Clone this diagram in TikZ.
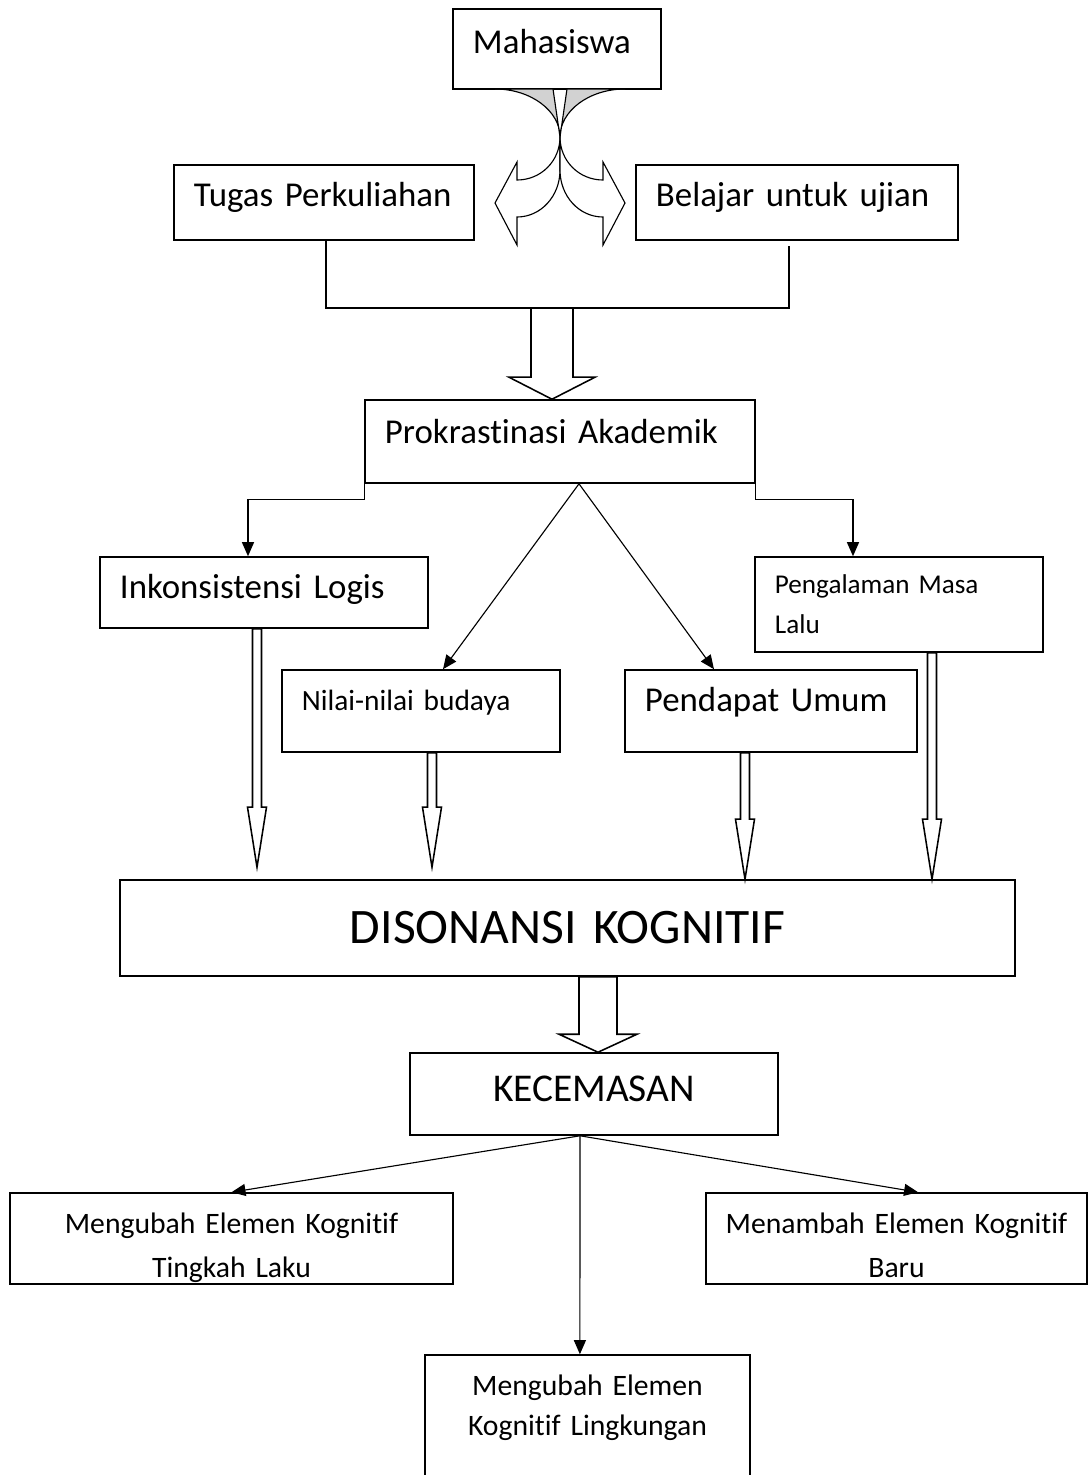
\documentclass[tikz,border=0pt]{standalone}
\usepackage{fontspec}
\setmainfont{Carlito}[Ligatures={NoCommon,NoRare}]
\usetikzlibrary{arrows.meta,calc}

\newdimen\pxu \pxu=0.025cm
% hollow block arrow pointing down: x, from, to, half shaft, half head, head length (px)
\newcommand{\hollowdown}[6]{%
  \draw[blok] let \p1=(#2), \p2=(#3), \p3=(#1,0) in
    (\x3-#4*\pxu,\y1) -- (\x3-#4*\pxu,\y2+#6*\pxu) -- (\x3-#5*\pxu,\y2+#6*\pxu) -- (\x3,\y2)
    -- (\x3+#5*\pxu,\y2+#6*\pxu) -- (\x3+#4*\pxu,\y2+#6*\pxu) -- (\x3+#4*\pxu,\y1) -- cycle;}

\begin{document}
\begin{tikzpicture}[
    x=0.025cm, y=-0.025cm,
    kotak/.style={rectangle, draw, line width=1.1pt, inner xsep=0.5cm, inner ysep=0pt,
                  align=left, font=\fontsize{24.8}{28}\selectfont},
    kotakkecil/.style={kotak, font=\fontsize{19.3}{28.45}\selectfont},
    kotaktengah/.style={kotak, inner xsep=0.1cm, align=center},
    kotakbawah/.style={kotaktengah, font=\fontsize{21.1}{31.3}\selectfont},
    panah/.style={-{Triangle[length=0.35cm,width=0.3cm]}, line width=0.8pt},
    garis/.style={line width=1.1pt},
    lengkung/.style={line width=0.8pt},
    blok/.style={draw, fill=white, line width=1.1pt, line join=miter}
]
\useasboundingbox (0,0) rectangle (1092,1475);
\clip (0,0) rectangle (1092,1475);

% Top
\node[kotak, text width=4.2cm, text height=1.1cm, text depth=0.9cm] (mhs) at (557,49) {Mahasiswa};
\node[kotak, text width=6.5cm, text height=1.025cm, text depth=0.85cm] (tugas) at (324,202.5) {Tugas Perkuliahan};
\node[kotak, text width=7.05cm, text height=1.025cm, text depth=0.85cm] (belajar) at (797,202.5) {Belajar untuk ujian};

% curved arrows out of Mahasiswa
\coordinate (silang) at (560,137);
\draw[lengkung, fill=gray!35] (silang) .. controls +(0,-26) and +(-36,0) .. (625,89) -- (567,89) -- cycle;
\draw[lengkung, fill=gray!35] (silang) .. controls +(0,-26) and +(36,0) .. (495,89) -- (553,89) -- cycle;
\draw[lengkung, fill=white] (silang) .. controls +(0,24) and +(24,0) .. (517,180) -- (517,162) -- (495,203)
    -- (517,245) -- (517,217) .. controls +(24,0) and +(0,26) .. (560,170) -- cycle;
\draw[lengkung, fill=white] (silang) .. controls +(0,24) and +(-24,0) .. (603,180) -- (603,162) -- (625,203)
    -- (603,245) -- (603,217) .. controls +(-24,0) and +(0,26) .. (560,170) -- cycle;

% Prokrastinasi
\node[kotak, text width=8.75cm, text height=1.075cm, text depth=1cm] (pro) at (560,441.5) {Prokrastinasi Akademik};
\coordinate (gabung) at (552,308);
\draw[garis] ([xshift=0.05cm]tugas.south) |- (gabung) -| ([xshift=-0.2cm,yshift=-0.125cm]belajar.south);
\hollowdown{552}{gabung}{pro.north}{21}{43}{22}

% Factors
\node[kotak, text width=7.2cm, text height=1.025cm, text depth=0.75cm] (ink) at (264,592.5) {Inkonsistensi Logis};
\node[kotakkecil, text width=6.2cm, text height=0.9cm, text depth=1.475cm] (pen) at (899,604.5) {Pengalaman Masa\\Lalu};
\node[kotakkecil, text width=5.95cm, text height=1cm, text depth=1.05cm,
      font=\fontsize{20.9}{28.45}\selectfont] (nil) at (421,711) {Nilai-nilai budaya};
\node[kotak, text width=6.3cm, text height=1.025cm, text depth=1.025cm] (pda) at (771,711) {Pendapat Umum};

\draw[panah] (pro.south west) -- ++(0,16) -| ([xshift=-0.4cm]ink.north);
\draw[panah] (pro.south east) -- ++(0,16) -| ([xshift=-1.15cm]pen.north);
\draw[panah] ([xshift=0.475cm]pro.south) -- ([xshift=0.55cm]nil.north);
\draw[panah] ([xshift=0.475cm]pro.south) -- ([xshift=-1.425cm]pda.north);

% Disonansi
\node[kotaktengah, text width=22.175cm, text height=1.575cm, text depth=0.825cm,
      font=\fontsize{35.3}{42}\selectfont] (dis) at (567.5,928) {DISONANSI KOGNITIF};

\hollowdown{257}{ink.south}{[yshift=0.3cm]dis.north}{4.5}{9.5}{60}
\hollowdown{432}{nil.south}{[yshift=0.3cm]dis.north}{4.5}{9.5}{60}
\hollowdown{745}{pda.south}{dis.north}{4.5}{9.5}{60}
\hollowdown{932}{pen.south}{dis.north}{4.5}{9.5}{60}

% Kecemasan
\node[kotaktengah, text width=9cm, text height=1.2cm, text depth=0.85cm,
      font=\fontsize{28}{32}\selectfont] (kec) at (594,1094) {KECEMASAN};
\hollowdown{598}{dis.south}{kec.north}{19}{39}{18}

% Reduksi
\node[kotakbawah, text width=10.875cm, text height=1cm, text depth=1.275cm] (tl) at (231.5,1238.5) {Mengubah Elemen Kognitif\\Tingkah Laku};
\node[kotakbawah, text width=9.325cm, text height=1cm, text depth=1.275cm] (baru) at (896.5,1238.5) {Menambah Elemen Kognitif\\Baru};
\node[kotakbawah, text width=7.925cm, text height=1cm, text depth=2.5cm,
      font=\fontsize{21.1}{28.45}\selectfont] (lkg) at (587.5,1425) {Mengubah Elemen\\Kognitif Lingkungan};

\draw[panah] ([xshift=-0.35cm]kec.south) -- (tl.north);
\draw[panah] ([xshift=-0.35cm]kec.south) -- ([xshift=0.54cm]baru.north);
\draw[panah] ([xshift=-0.35cm]kec.south) -- ([xshift=-0.19cm]lkg.north);

\end{tikzpicture}
\end{document}
